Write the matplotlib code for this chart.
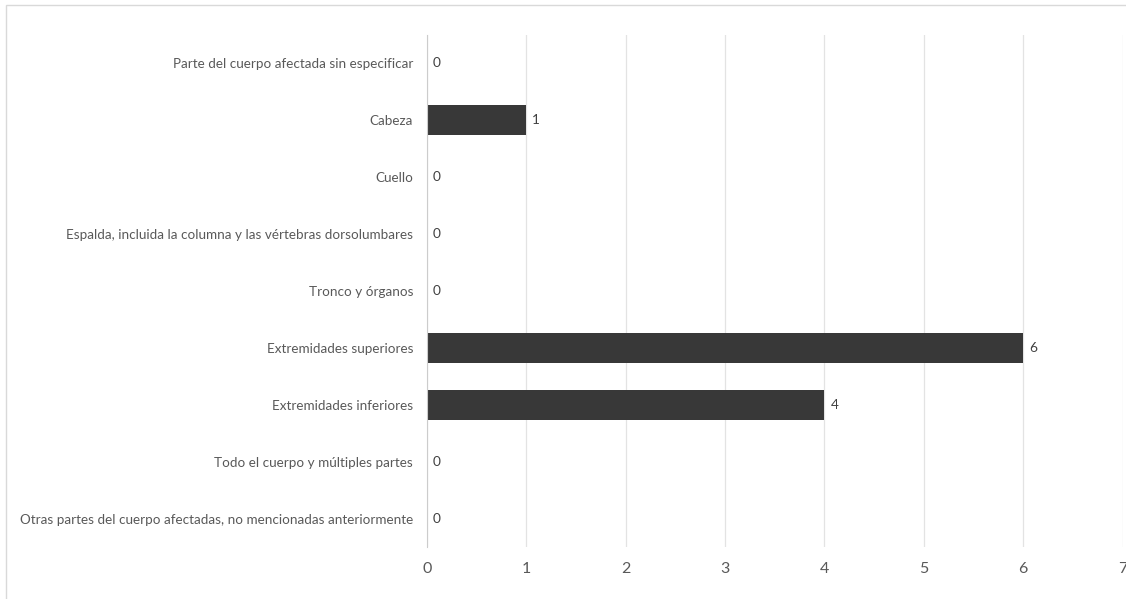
import matplotlib.pyplot as plt
import matplotlib.patches as mpatches

categories = [
    'Parte del cuerpo afectada sin especificar',
    'Cabeza',
    'Cuello',
    'Espalda, incluida la columna y las vértebras dorsolumbares',
    'Tronco y órganos',
    'Extremidades superiores',
    'Extremidades inferiores',
    'Todo el cuerpo y múltiples partes',
    'Otras partes del cuerpo afectadas, no mencionadas anteriormente',
]
values = [0, 1, 0, 0, 0, 6, 4, 0, 0]
xticks = [0, 1, 2, 3, 4, 5, 6, 7]

plt.rcParams['font.family'] = ['Lato', 'DejaVu Sans']

fig = plt.figure(figsize=(11.26, 5.99), dpi=100)
ax = fig.add_axes([427 / 1126, 1 - 547 / 599, (1122.5 - 427) / 1126, (547 - 35) / 599])

# chart border like the Excel chart area
fig.patches.append(mpatches.Rectangle((6 / 1126, -0.01), 1.02, 1 - 5 / 599 + 0.01,
                                      transform=fig.transFigure, fill=False,
                                      edgecolor='#d9d9d9', linewidth=1))

ypos = list(range(len(categories)))
ax.barh(ypos, values, height=0.53, color='#383838', linewidth=0, zorder=3)
for y, v in zip(ypos, values):
    ax.text(v + 0.06, y, str(v), va='center', ha='left', fontsize=9.8, color='#404040')

ax.set_xlim(0, 7)
ax.set_ylim(len(categories) - 0.5, -0.5)
ax.set_xticks(xticks)
ax.set_yticks(ypos)
ax.set_yticklabels(categories)
ax.tick_params(axis='both', length=0, colors='#595959')
ax.tick_params(axis='x', pad=11, labelsize=11.5)
ax.tick_params(axis='y', pad=10, labelsize=9.7)
ax.grid(axis='x', color='#e3e3e3', linewidth=0.9, zorder=0)
for s in ['top', 'right', 'bottom']:
    ax.spines[s].set_visible(False)
ax.spines['left'].set_color('#cccccc')
ax.spines['left'].set_zorder(4)

plt.savefig('out.png', dpi=100)
